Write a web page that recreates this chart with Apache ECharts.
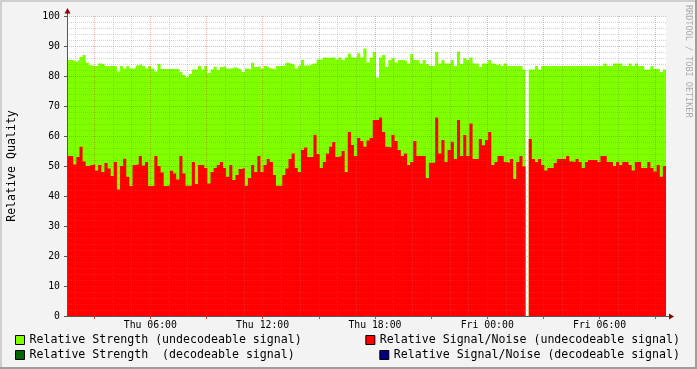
<!DOCTYPE html>
<html><head><meta charset="utf-8">
<script src="https://cdn.jsdelivr.net/npm/echarts@6/dist/echarts.min.js"></script>
<style>html,body{margin:0;padding:0;background:#f3f3f3}#c{width:697px;height:369px}</style>
</head><body><div id="c"></div>
<script>
// time grid: hours since Thu 00:00, 10-minute samples
const START_HOUR = 1.55;
const STEP_HOURS = 1 / 6;

const STRENGTH_UNDEC = [
85.3,85.3,84.7,85.3,86.3,87,84.5,83.6,83.3,83.3,84.2,84,83.3,83.3,83.3,83.3,81.5,83.3,82.5,83.3,
82.5,82.5,83.5,84,83.3,82.5,83.3,82.5,81.5,84,82.3,82.3,82.3,82.3,82.3,82.3,81.3,80.3,79.6,
80.7,82.2,82.2,83.3,82.2,83.3,81,82.2,83.1,82,83,83.3,82.5,82.5,83,82.5,82.2,81.3,82.5,82.2,
84.4,83,83.3,82.5,83.3,82.7,82.5,82.2,83.3,83.3,83.5,84.4,84,83.8,82.5,83.5,85.3,83.5,
83.6,84.2,84.2,85.5,85.5,86.2,86,86.2,86.2,85.5,86.2,85.3,86.2,87.5,86.2,86.2,87.6,86.2,89.2,84.5,
86.2,88,79.5,86.2,87,83,85.3,86,84.5,85.3,85.3,85,84.2,87.3,85.3,85.3,84.2,85.3,84,
83.3,83.3,88,84.2,85.3,84.2,84.2,85.3,83.3,88.2,84,86,85.3,86.2,84.2,84.2,83,84.2,84.2,85.3,
84.2,83.6,84.2,83.3,84.2,83.3,83.3,83.3,83.3,83.3,82.2,null,82.2,82.2,83.3,82.2,83.3,83.3,
83.3,83.3,83.3,83.3,83.3,83.3,83.3,83.3,83.3,83.3,83.3,83.3,83.3,83.3,83.3,83.3,83.3,83.3,
84.2,83.3,83.3,84.2,84.2,84.2,83.3,83.3,84.2,83.3,84.2,83.3,83.3,82.2,82.2,83.3,82.3,82.4,81.3,82.2
];
const SNR_UNDEC = [
53.3,53.3,50.5,53,56.4,51.5,50,50.3,50.5,48.5,50.3,48,51,49.2,46.7,51.3,42.2,50,52.4,46.4,
43.3,50.3,50.5,53.3,50.2,51.3,43.3,43.3,53.3,50,47.8,43.3,43.5,48.4,47.5,45.5,53.3,47.5,43.4,
43.4,51.3,44,50.3,50.3,49.3,44.2,48,49.3,50.3,51.3,49.3,46.4,50.3,45.3,47,49,49.3,43.4,46,
50.3,48,53.3,48,50.3,52.3,51.3,47,43.4,43.4,47,49.2,52.3,54.2,49.3,48,55.3,56.2,
53,53,60.3,54,49.3,51.3,54.2,56.4,58,53,53.3,55,48,61.3,57,53.3,59.3,58.3,56.4,58.5,
59.3,65.3,65.3,66.2,61.3,56.4,56.2,60.3,58.3,55.3,53.3,54.2,50.3,51.3,58.3,53.3,53.3,53.3,46,
51.1,51.1,66.2,54.2,58.7,51.3,55.3,58.1,52.3,65.3,53.3,60.3,53.3,64.2,52.3,52.3,59,56.9,58.7,61.3,
50.3,51.3,53.3,53.3,51.3,51.1,52.3,45.7,51.3,53.3,49.8,null,59,52.3,51.3,52.3,50.3,48.5,
49.3,49.3,51,52.3,52.3,52.3,53.3,51.5,51.3,52.3,51.3,49.3,51.3,52,52,52,51.3,53.3,
53.3,51.3,51.3,50,51.3,50.3,51.3,51.3,50.3,48.5,51.3,51.3,49.3,49.3,51.3,49.3,48.2,50.3,46.4,50
];
const STRENGTH_DEC = [];
const SNR_DEC = [];

const SERIES_NAMES = [
  'Relative Strength (undecodeable signal)',
  'Relative Signal/Noise (undecodeable signal)',
  'Relative Strength  (decodeable signal)',
  'Relative Signal/Noise (decodeable signal)'
];
const SERIES_COLORS = ['#80ff00', '#ff0000', '#006400', '#000080'];

const X_LABEL_HOURS = [6, 12, 18, 24, 30];
const X_LABELS = ['Thu 06:00', 'Thu 12:00', 'Thu 18:00', 'Fri 00:00', 'Fri 06:00'];
const X_MAJOR_HOURS = [3, 6, 9, 12, 15, 18, 21, 24, 27, 30, 33];
const X_MINOR_HOURS = [2,4,5,7,8,10,11,13,14,16,17,19,20,22,23,25,26,28,29,31,32];

const N = STRENGTH_UNDEC.length;
const X_MIN = START_HOUR, X_MAX = START_HOUR + N * STEP_HOURS;

function toSteps(vals) {
  const out = [];
  for (let k = 0; k < vals.length; k++) {
    const t = START_HOUR + k * STEP_HOURS;
    if (vals[k] == null) {
      if (k > 0 && vals[k - 1] != null) out.push([t, vals[k - 1]]);
      out.push([t, null]);
    } else out.push([t, vals[k]]);
  }
  if (vals.length) out.push([START_HOUR + vals.length * STEP_HOURS, vals[vals.length - 1]]);
  return out;
}

const FONT = 'DejaVu Sans Mono';
const MAJOR = 'rgba(222,48,48,0.38)';
const MINOR = 'rgba(120,120,120,0.32)';
const G = { left: 67, top: 16, w: 599, h: 300 };

function areaSeries(name, color, vals) {
  return {
    name, type: 'line', xAxisIndex: 0, yAxisIndex: 0,
    data: toSteps(vals), step: 'end', showSymbol: false, symbol: 'none',
    lineStyle: { width: 0, color }, itemStyle: { color },
    areaStyle: { color, opacity: 1 }, connectNulls: false, z: 2
  };
}

const legendCommon = {
  orient: 'horizontal', icon: 'rect', itemWidth: 9, itemHeight: 9, padding: 0,
  selectedMode: false,
  itemStyle: { borderColor: '#000', borderWidth: 1 },
  textStyle: { fontFamily: FONT, fontSize: 11.6, color: '#000' }
};

const chart = echarts.init(document.getElementById('c'), null, { renderer: 'canvas' });
chart.setOption({
  animation: false,
  backgroundColor: '#f3f3f3',
  grid: { left: G.left, top: G.top, width: G.w, height: G.h, containLabel: false, outerBoundsMode: 'none', backgroundColor: '#ffffff', show: true, borderWidth: 0 },
  legend: [
    Object.assign({ data: [SERIES_NAMES[0]], left: 15, top: 334 }, legendCommon),
    Object.assign({ data: [SERIES_NAMES[2]], left: 15, top: 349 }, legendCommon),
    Object.assign({ data: [SERIES_NAMES[1]], right: 17, top: 334 }, legendCommon),
    Object.assign({ data: [SERIES_NAMES[3]], right: 17, top: 349 }, legendCommon)
  ],
  xAxis: [
    {
      type: 'value', min: X_MIN, max: X_MAX, position: 'bottom', z: 6,
      axisLine: { show: true, onZero: false, lineStyle: { color: '#555', width: 1 } },
      axisTick: { show: true, customValues: X_MAJOR_HOURS, length: 3, lineStyle: { color: '#d04040' } },
      axisLabel: {
        show: true, customValues: X_LABEL_HOURS, margin: 4, color: '#000',
        fontFamily: FONT, fontSize: 9.8,
        formatter: v => X_LABELS[X_LABEL_HOURS.indexOf(Math.round(v))] || ''
      },
      splitLine: { show: true, lineStyle: { color: MAJOR, type: [1, 1], width: 1 } }
    },
    {
      type: 'value', min: X_MIN, max: X_MAX, position: 'bottom', offset: 0, z: 5,
      axisLine: { show: false },
      axisTick: { show: false, customValues: X_MINOR_HOURS },
      axisLabel: { show: false },
      splitLine: { show: true, lineStyle: { color: MINOR, type: [1, 1], width: 1 } }
    }
  ],
  yAxis: {
    type: 'value', min: 0, max: 100, interval: 10, z: 6,
    name: 'Relative Quality', nameLocation: 'middle', nameRotate: 90, nameGap: 49,
    nameTextStyle: { fontFamily: FONT, fontSize: 11.6, color: '#000' },
    axisLine: { show: true, onZero: false, lineStyle: { color: '#555', width: 1 } },
    axisTick: { show: true, length: 3, lineStyle: { color: '#555' } },
    axisLabel: { margin: 7, color: '#000', fontFamily: FONT, fontSize: 9.8 },
    splitLine: { show: true, lineStyle: { color: MAJOR, type: [1, 1], width: 1 } },
    minorTick: { show: false, splitNumber: 5 },
    minorSplitLine: { show: true, lineStyle: { color: MINOR, type: [1, 1], width: 1 } }
  },
  series: [
    areaSeries(SERIES_NAMES[0], SERIES_COLORS[0], STRENGTH_UNDEC),
    areaSeries(SERIES_NAMES[1], SERIES_COLORS[1], SNR_UNDEC),
    areaSeries(SERIES_NAMES[2], SERIES_COLORS[2], STRENGTH_DEC),
    areaSeries(SERIES_NAMES[3], SERIES_COLORS[3], SNR_DEC)
  ],
  graphic: [
    { type: 'line', shape: { x1: 0, y1: 1, x2: 697, y2: 1 }, style: { stroke: '#cfcfcf', lineWidth: 2 }, z: 10 },
    { type: 'line', shape: { x1: 1, y1: 0, x2: 1, y2: 369 }, style: { stroke: '#cfcfcf', lineWidth: 2 }, z: 10 },
    { type: 'line', shape: { x1: 0, y1: 368, x2: 697, y2: 368 }, style: { stroke: '#9e9e9e', lineWidth: 2 }, z: 10 },
    { type: 'line', shape: { x1: 696, y1: 0, x2: 696, y2: 369 }, style: { stroke: '#9e9e9e', lineWidth: 2 }, z: 10 },
    { type: 'line', shape: { x1: G.left + 0.5, y1: G.top, x2: G.left + 0.5, y2: G.top - 3 }, style: { stroke: '#555', lineWidth: 1 }, z: 10 },
    { type: 'polygon', shape: { points: [[G.left - 2.5, G.top - 2.5], [G.left + 3.5, G.top - 2.5], [G.left + 0.5, G.top - 8]] }, style: { fill: '#8b0000' }, z: 10 },
    { type: 'line', shape: { x1: G.left + G.w, y1: G.top + G.h + 0.5, x2: G.left + G.w + 3, y2: G.top + G.h + 0.5 }, style: { stroke: '#555', lineWidth: 1 }, z: 10 },
    { type: 'polygon', shape: { points: [[G.left + G.w + 3, G.top + G.h - 2.5], [G.left + G.w + 3, G.top + G.h + 3.5], [G.left + G.w + 8, G.top + G.h + 0.5]] }, style: { fill: '#8b0000' }, z: 10 },
    { type: 'text', x: 688, y: 5, rotation: -Math.PI / 2,
      style: { text: 'RRDTOOL / TOBI OETIKER', fontFamily: FONT, fontSize: 8.5, fill: '#aaaaaa', textAlign: 'left', textVerticalAlign: 'middle' }, z: 10 }
  ]
});
</script>
</body></html>
